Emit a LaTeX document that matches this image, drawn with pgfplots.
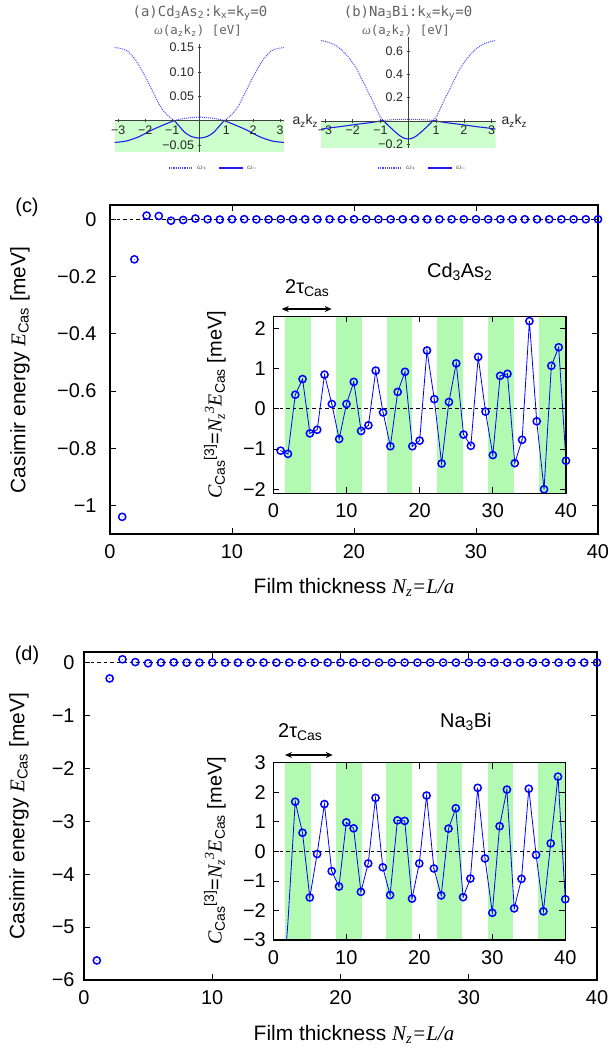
\documentclass[border=0pt]{standalone}
\usepackage{fontspec}
\setmainfont{Liberation Sans}
\newfontfamily\tms{Liberation Serif}
\newfontfamily\mono{DejaVu Sans Mono}
\usepackage{pgfplots}
\pgfplotsset{compat=1.18}
\usetikzlibrary{arrows.meta}

\definecolor{stripe}{rgb}{0.70,0.98,0.70}
\definecolor{bandfill}{rgb}{0.80,1.00,0.80}
\definecolor{mblue}{rgb}{0.30,0.30,1.00}
\definecolor{sblue}{rgb}{0.12,0.12,0.92}
\definecolor{mgray}{gray}{0.38}

\newcommand{\ti}[1]{{\tms\itshape #1}}

\pgfdeclareplotmark{odot}{%
  \pgfpathcircle{\pgfpointorigin}{\pgfplotmarksize}\pgfusepathqstroke
  \pgfpathcircle{\pgfpointorigin}{0.45pt}\pgfusepathqfill}

% Cd3As2: C_Cas^[3] (inset) and E_Cas (main)
\pgfplotstableread{
N C
1 -1.04
2 -1.12
3 0.35
4 0.74
5 -0.61
6 -0.52
7 0.85
8 0.12
9 -0.75
10 0.12
11 0.67
12 -0.55
13 -0.41
14 0.95
15 -0.09
16 -0.93
17 0.42
18 0.92
19 -0.93
20 -0.79
21 1.45
22 0.24
23 -1.36
24 0.17
25 1.13
26 -0.64
27 -0.92
28 1.29
29 -0.07
30 -1.15
31 0.82
32 0.87
33 -1.35
34 -0.77
35 2.18
36 -0.31
37 -2.00
38 1.07
39 1.53
40 -1.29
}\cdC
\pgfplotstableread{
N E
1 -1.04
2 -0.14
3 0.013
4 0.0116
5 -0.0049
6 -0.0024
7 0.0025
8 0.0002
9 -0.0010
10 0.0001
11 0.0005
12 -0.0003
13 -0.0002
14 0.0003
15 0.0000
16 -0.0002
17 0.0001
18 0.0002
19 -0.0001
20 -0.0001
21 0.0002
22 0.0000
23 -0.0001
24 0.0000
25 0.0001
26 0.0000
27 0.0000
28 0.0001
29 0.0000
30 0.0000
31 0.0000
32 0.0000
33 0.0000
34 0.0000
35 0.0000
36 0.0000
37 0.0000
38 0.0000
39 0.0000
40 0.0000
}\cdE
% Na3Bi
\pgfplotstableread{
N C
1 -5.63
2 -2.42
3 1.68
4 0.63
5 -1.56
6 -0.09
7 1.60
8 -0.67
9 -1.19
10 0.98
11 0.78
12 -1.37
13 -0.41
14 1.81
15 -0.54
16 -1.48
17 1.05
18 1.03
19 -1.60
20 -0.41
21 1.89
22 -0.58
23 -1.49
24 0.77
25 1.46
26 -1.55
27 -0.92
28 2.15
29 -0.24
30 -2.08
31 0.85
32 2.09
33 -1.93
34 -0.93
35 2.12
36 -0.12
37 -2.03
38 0.27
39 2.53
40 -1.62
}\naC
\pgfplotstableread{
N E
1 -5.63
2 -0.30
3 0.062
4 0.0098
5 -0.0125
6 -0.0004
7 0.0047
8 -0.0013
9 -0.0016
10 0.0010
11 0.0006
12 -0.0008
13 -0.0002
14 0.0007
15 -0.0002
16 -0.0004
17 0.0002
18 0.0002
19 -0.0002
20 0.0000
21 0.0002
22 0.0000
23 -0.0001
24 0.0000
25 0.0001
26 0.0000
27 0.0000
28 0.0001
29 0.0000
30 0.0000
31 0.0000
32 0.0000
33 0.0000
34 0.0000
35 0.0000
36 0.0000
37 0.0000
38 0.0000
39 0.0000
40 0.0000
}\naE

\pgfplotsset{
  gp/.style={scale only axis, anchor=south west, xmin=0, xmax=40,
    xtick={0,10,20,30,40}, xticklabels={0,10,20,30,40},
    tick align=inside, major tick length=6bp,
    tick style={black, line width=0.8pt},
    axis line style={line width=1.1pt},
    tick label style={font=\fontsize{20}{24}\selectfont},
    xticklabel style={yshift=-7bp},
    yticklabel style={xshift=-4bp}},
  mm/.style={scale only axis, anchor=south west, axis lines=middle,
    axis line style={-, black!75, line width=0.6pt},
    tick style={black!75, line width=0.5pt},
    major tick length=3.5bp, minor tick length=2bp, minor tick num=4,
    tick label style={font=\fontsize{12.5}{14}\selectfont, text=black!85},
    axis on top},
  zero/.style={black, line width=1.1pt, dash pattern=on 3.5bp off 3bp},
  pts/.style={blue, mark=odot, mark size=3.6bp,
    mark options={solid, line width=1.5pt, fill=blue}},
}

\begin{document}
\begin{tikzpicture}[font=\fontsize{20}{24}\selectfont]
\useasboundingbox (0,0) rectangle (613bp,-1051bp);

% ---------- (a) Cd3As2 band ----------
\begin{axis}[mm, at={(114.5bp,-151.7bp)}, width=169.5bp, height=108bp,
  xmin=-3.1416, xmax=3.1416, ymin=-0.064, ymax=0.158,
  xtick={-3,-2,-1,1,2,3}, xticklabels={−3,−2,−1,1,2,3},
  ytick={-0.05,0.05,0.1,0.15}, yticklabels={−0.05,0.05,0.10,0.15}]
\addplot[fill=bandfill, draw=none] coordinates {(-3.1416,-0.064) (3.1416,-0.064) (3.1416,0) (-3.1416,0)} -- cycle;
\addplot[mblue, densely dotted, line width=1pt, smooth] coordinates {(-3.1416,0.150) (-2.9,0.148) (-2.7,0.144) (-2.45,0.131) (-2.2,0.110) (-1.95,0.085) (-1.7,0.057) (-1.45,0.030) (-1.2,0.012) (-0.92,0.0)};
\addplot[mblue, densely dotted, line width=1pt, smooth] coordinates {(-0.92,0.0) (-0.7,0.003) (-0.45,0.005) (-0.2,0.0065) (0,0.007) (0.2,0.0065) (0.45,0.005) (0.7,0.003) (0.92,0.0)};
\addplot[mblue, densely dotted, line width=1pt, smooth] coordinates {(0.92,0.0) (1.2,0.012) (1.45,0.030) (1.7,0.057) (1.95,0.085) (2.2,0.110) (2.45,0.131) (2.7,0.144) (2.9,0.148) (3.1416,0.150)};
\addplot[sblue, line width=1.1pt, smooth] coordinates {(-3.1416,-0.045) (-2.7,-0.042) (-2.23,-0.033) (-1.74,-0.019) (-1.26,-0.0075) (-0.92,0)};
\addplot[sblue, line width=1.1pt, smooth] coordinates {(-0.92,0) (-0.75,-0.011) (-0.52,-0.025) (-0.28,-0.033) (0,-0.036) (0.28,-0.033) (0.52,-0.025) (0.75,-0.011) (0.92,0)};
\addplot[sblue, line width=1.1pt, smooth] coordinates {(0.92,0) (1.26,-0.0075) (1.74,-0.019) (2.23,-0.033) (2.7,-0.042) (3.1416,-0.045)};
\end{axis}
\node[mgray, font=\mono\fontsize{14}{16}\selectfont] at (200bp,-13bp) {(a)Cd\textsubscript{3}As\textsubscript{2}:k\textsubscript{x}=k\textsubscript{y}=0};
\node[mgray, font=\mono\fontsize{12.5}{14}\selectfont] at (198bp,-31bp) {{\tms\itshape ω}(a\textsubscript{z}k\textsubscript{z}) [eV]};
\node[black!85, anchor=west, font=\fontsize{14}{16}\selectfont] at (289bp,-121bp) {a\textsubscript{z}k\textsubscript{z}};

% ---------- (b) Na3Bi band ----------
\begin{axis}[mm, at={(321bp,-148.3bp)}, width=174.5bp, height=111.6bp,
  xmin=-3.1416, xmax=3.1416, ymin=-0.234, ymax=0.722,
  xtick={-3,-2,-1,1,2,3}, xticklabels={−3,−2,−1,1,2,3},
  ytick={-0.2,0.2,0.4,0.6}, yticklabels={−0.2,0.2,0.4,0.6}]
\addplot[fill=bandfill, draw=none] coordinates {(-3.1416,-0.234) (3.1416,-0.234) (3.1416,0) (-3.1416,0)} -- cycle;
\addplot[mblue, densely dotted, line width=1pt, smooth] coordinates {(-3.1416,0.690) (-2.77,0.666) (-2.47,0.623) (-2.17,0.551) (-1.87,0.451) (-1.57,0.309) (-1.27,0.166) (-1.02,0.040) (-0.9,0.005)};
\addplot[mblue, densely dotted, line width=1pt, smooth] coordinates {(-0.9,0.005) (-0.6,0.010) (-0.3,0.013) (0,0.014) (0.3,0.013) (0.6,0.010) (0.9,0.005)};
\addplot[mblue, densely dotted, line width=1pt, smooth] coordinates {(0.9,0.005) (1.02,0.040) (1.27,0.166) (1.57,0.309) (1.87,0.451) (2.17,0.551) (2.47,0.623) (2.77,0.666) (3.1416,0.690)};
\addplot[sblue, line width=1.1pt, smooth] coordinates {(-3.1416,-0.070) (-2.77,-0.057) (-2.47,-0.049) (-1.87,-0.029) (-1.27,-0.011) (-0.9,0.005)};
\addplot[sblue, line width=1.1pt, smooth] coordinates {(-0.9,0.005) (-0.8,-0.020) (-0.7,-0.043) (-0.6,-0.065) (-0.45,-0.098) (-0.3,-0.127) (-0.15,-0.147) (0,-0.154) (0.15,-0.147) (0.3,-0.127) (0.45,-0.098) (0.6,-0.065) (0.7,-0.043) (0.8,-0.020) (0.9,0.005)};
\addplot[sblue, line width=1.1pt, smooth] coordinates {(0.9,0.005) (1.27,-0.011) (1.87,-0.029) (2.47,-0.049) (2.77,-0.057) (3.1416,-0.070)};
\end{axis}
\node[mgray, font=\mono\fontsize{14}{16}\selectfont] at (408bp,-13bp) {(b)Na\textsubscript{3}Bi:k\textsubscript{x}=k\textsubscript{y}=0};
\node[mgray, font=\mono\fontsize{12.5}{14}\selectfont] at (406bp,-31bp) {{\tms\itshape ω}(a\textsubscript{z}k\textsubscript{z}) [eV]};
\node[black!85, anchor=west, font=\fontsize{14}{16}\selectfont] at (498bp,-121bp) {a\textsubscript{z}k\textsubscript{z}};

% legends of (a) and (b)
\draw[mblue, densely dotted, line width=1.2pt] (169bp,-168bp) -- (191bp,-168bp);
\node[mgray, anchor=west, inner sep=1pt, font=\fontsize{8}{9}\selectfont] at (196bp,-168bp) {{\tms\itshape ω}\textsubscript{+}};
\draw[sblue, line width=1.5pt] (219bp,-168bp) -- (243bp,-168bp);
\node[mgray, anchor=west, inner sep=1pt, font=\fontsize{8}{9}\selectfont] at (246bp,-168bp) {{\tms\itshape ω}\textsubscript{−}};
\draw[mblue, densely dotted, line width=1.2pt] (378bp,-168bp) -- (400bp,-168bp);
\node[mgray, anchor=west, inner sep=1pt, font=\fontsize{8}{9}\selectfont] at (405bp,-168bp) {{\tms\itshape ω}\textsubscript{+}};
\draw[sblue, line width=1.5pt] (428bp,-168bp) -- (452bp,-168bp);
\node[mgray, anchor=west, inner sep=1pt, font=\fontsize{8}{9}\selectfont] at (455bp,-168bp) {{\tms\itshape ω}\textsubscript{−}};

% ---------- (c) main ----------
\begin{axis}[gp, at={(110bp,-534bp)}, width=488bp, height=329bp, clip=false,
  ymin=-1.1, ymax=0.05,
  ytick={-1,-0.8,-0.6,-0.4,-0.2,0}, yticklabels={−1,−0.8,−0.6,−0.4,−0.2,0},
  yticklabel style={xshift=-6bp}]
\addplot[zero] coordinates {(0,0) (40,0)};
\addplot[pts, only marks] table[x=N, y=E] {\cdE};
\end{axis}
\node at (27bp,-207bp) {(c)};
\node[rotate=90, font=\fontsize{21}{24}\selectfont] at (20bp,-370bp) {Casimir energy \ti{E}\textsubscript{Cas} [meV]};
\node[anchor=base, font=\fontsize{21}{24}\selectfont] at (354bp,-593bp) {Film thickness \ti{N\textsubscript{z}=L/a}};

% ---------- (c) inset ----------
\begin{axis}[gp, at={(273.3bp,-493.3bp)}, width=292.7bp, height=177bp,
  ymin=-2.1, ymax=2.3, axis on top,
  ytick={-2,-1,0,1,2}, yticklabels={−2,−1,0,1,2}]
\addplot[fill=white, draw=none] coordinates {(0,-2.1) (40,-2.1) (40,2.3) (0,2.3)} -- cycle;
\addplot[fill=stripe, draw=none] coordinates {(1.6,-2.1) (5.1,-2.1) (5.1,2.3) (1.6,2.3)} -- cycle;
\addplot[fill=stripe, draw=none] coordinates {(8.6,-2.1) (12.1,-2.1) (12.1,2.3) (8.6,2.3)} -- cycle;
\addplot[fill=stripe, draw=none] coordinates {(15.5,-2.1) (19.0,-2.1) (19.0,2.3) (15.5,2.3)} -- cycle;
\addplot[fill=stripe, draw=none] coordinates {(22.4,-2.1) (25.9,-2.1) (25.9,2.3) (22.4,2.3)} -- cycle;
\addplot[fill=stripe, draw=none] coordinates {(29.4,-2.1) (32.9,-2.1) (32.9,2.3) (29.4,2.3)} -- cycle;
\addplot[fill=stripe, draw=none] coordinates {(36.3,-2.1) (40,-2.1) (40,2.3) (36.3,2.3)} -- cycle;
\addplot[zero] coordinates {(0,0) (40,0)};
\addplot[pts, line width=0.8pt] table[x=N, y=C] {\cdC};
\end{axis}
\node[rotate=90, anchor=center] at (215bp,-405bp) {\ti{C}\textsubscript{Cas}\textsuperscript{[3]}=\ti{N\textsubscript{z}\textsuperscript{3}}\ti{E}\textsubscript{Cas} [meV]};
\draw[{Stealth[length=7bp,width=6bp]}-{Stealth[length=7bp,width=6bp]}, line width=1.6bp] (281.7bp,-309bp) -- (331.7bp,-309bp);
\node[anchor=base west, inner sep=0pt] at (285bp,-293bp) {2τ\textsubscript{Cas}};
\node[anchor=base west, inner sep=0pt] at (427bp,-277bp) {Cd\textsubscript{3}As\textsubscript{2}};

% ---------- (d) main ----------
\begin{axis}[gp, at={(84bp,-980bp)}, width=513bp, height=328bp, clip=false,
  ymin=-6, ymax=0.2,
  ytick={-6,-5,-4,-3,-2,-1,0}, yticklabels={−6,−5,−4,−3,−2,−1,0},
  yticklabel style={xshift=-2bp}]
\addplot[zero] coordinates {(0,0) (40,0)};
\addplot[pts, only marks] table[x=N, y=E] {\naE};
\end{axis}
\node at (27bp,-655bp) {(d)};
\node[rotate=90, font=\fontsize{21}{24}\selectfont] at (19bp,-816bp) {Casimir energy \ti{E}\textsubscript{Cas} [meV]};
\node[anchor=base, font=\fontsize{21}{24}\selectfont] at (354bp,-1040bp) {Film thickness \ti{N\textsubscript{z}=L/a}};

% ---------- (d) inset ----------
\begin{axis}[gp, at={(273.3bp,-940bp)}, width=292bp, height=177.3bp,
  ymin=-3, ymax=3, axis on top,
  ytick={-3,-2,-1,0,1,2,3}, yticklabels={−3,−2,−1,0,1,2,3}]
\addplot[fill=white, draw=none] coordinates {(0,-3) (40,-3) (40,3) (0,3)} -- cycle;
\addplot[fill=stripe, draw=none] coordinates {(1.6,-3) (5.1,-3) (5.1,3) (1.6,3)} -- cycle;
\addplot[fill=stripe, draw=none] coordinates {(8.6,-3) (12.1,-3) (12.1,3) (8.6,3)} -- cycle;
\addplot[fill=stripe, draw=none] coordinates {(15.5,-3) (19.0,-3) (19.0,3) (15.5,3)} -- cycle;
\addplot[fill=stripe, draw=none] coordinates {(22.4,-3) (25.9,-3) (25.9,3) (22.4,3)} -- cycle;
\addplot[fill=stripe, draw=none] coordinates {(29.4,-3) (32.9,-3) (32.9,3) (29.4,3)} -- cycle;
\addplot[fill=stripe, draw=none] coordinates {(36.3,-3) (40,-3) (40,3) (36.3,3)} -- cycle;
\addplot[zero] coordinates {(0,0) (40,0)};
\addplot[pts, line width=0.8pt, mark indices={2,...,40}] table[x=N, y=C] {\naC};
\end{axis}
\node[rotate=90, anchor=center] at (215bp,-851bp) {\ti{C}\textsubscript{Cas}\textsuperscript{[3]}=\ti{N\textsubscript{z}\textsuperscript{3}}\ti{E}\textsubscript{Cas} [meV]};
\draw[{Stealth[length=7bp,width=6bp]}-{Stealth[length=7bp,width=6bp]}, line width=1.6bp] (285bp,-755bp) -- (332.7bp,-755bp);
\node[anchor=base west, inner sep=0pt] at (278bp,-737bp) {2τ\textsubscript{Cas}};
\node[anchor=base west, inner sep=0pt] at (440bp,-727bp) {Na\textsubscript{3}Bi};
\end{tikzpicture}
\end{document}
